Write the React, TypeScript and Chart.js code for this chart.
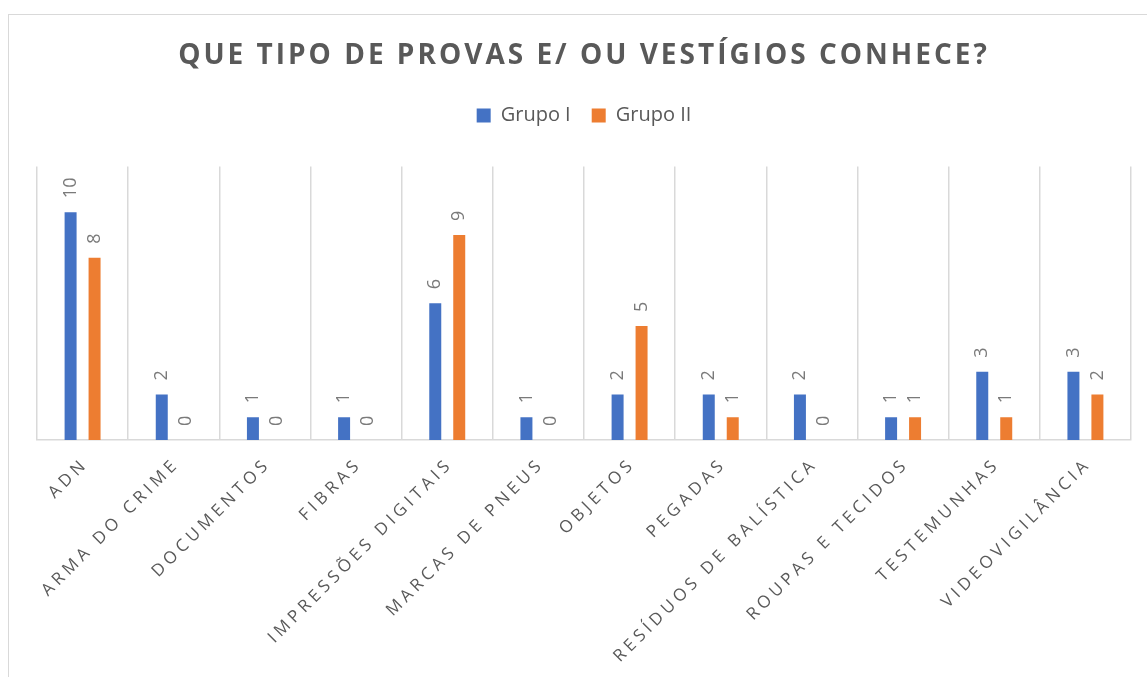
import React, { useEffect, useRef } from 'react';
import { Chart, registerables } from 'chart.js';

Chart.register(...registerables);

const categories = [
  'ADN',
  'ARMA DO CRIME',
  'DOCUMENTOS',
  'FIBRAS',
  'IMPRESSÕES DIGITAIS',
  'MARCAS DE PNEUS',
  'OBJETOS',
  'PEGADAS',
  'RESÍDUOS DE BALÍSTICA',
  'ROUPAS E TECIDOS',
  'TESTEMUNHAS',
  'VIDEOVIGILÂNCIA',
];
const grupoI = [10, 2, 1, 1, 6, 1, 2, 2, 2, 1, 3, 3];
const grupoII = [8, 0, 0, 0, 9, 0, 5, 1, 0, 1, 1, 2];
const seriesNames = ['Grupo I', 'Grupo II'];
const titleText = 'QUE TIPO DE PROVAS E/ OU VESTÍGIOS CONHECE?';
const yMin = 0;
const yMax = 12;

const FONT = '"Open Sans", "DejaVu Sans", sans-serif';

const spacingPlugin = {
  id: 'spacingPlugin',
  beforeDraw(chart: any) {
    const tb = chart.titleBlock;
    if (tb && !tb.__wrapped) {
      const orig = tb.draw;
      tb.draw = function (...args: any[]) {
        const c = this.ctx;
        c.save();
        c.letterSpacing = '3px';
        orig.apply(this, args);
        c.letterSpacing = '0px';
        c.restore();
      };
      tb.__wrapped = true;
    }
    const xs = chart.scales.x;
    if (xs && !xs.__wrapped) {
      const orig = xs.drawLabels;
      xs.drawLabels = function (...args: any[]) {
        const c = this.ctx;
        c.save();
        c.letterSpacing = '4.2px';
        orig.apply(this, args);
        c.letterSpacing = '0px';
        c.restore();
      };
      xs.__wrapped = true;
    }
  },
};

const dataLabelPlugin = {
  id: 'dataLabelPlugin',
  afterDatasetsDraw(chart: any) {
    const ctx = chart.ctx;
    chart.data.datasets.forEach((ds: any, i: number) => {
      const meta = chart.getDatasetMeta(i);
      meta.data.forEach((bar: any, j: number) => {
        const v = ds.data[j];
        ctx.save();
        ctx.translate(bar.x, bar.y - 14);
        ctx.rotate(-Math.PI / 2);
        ctx.font = `18px ${FONT}`;
        ctx.fillStyle = '#7a7a7a';
        ctx.textAlign = 'left';
        ctx.textBaseline = 'middle';
        ctx.fillText(String(v), 0, 0);
        ctx.restore();
      });
    });
  },
};

export default function App() {
  const ref = useRef<HTMLCanvasElement | null>(null);

  useEffect(() => {
    if (!ref.current) return;
    const chart = new Chart(ref.current, {
      type: 'bar',
      data: {
        labels: categories,
        datasets: [
          {
            label: seriesNames[0],
            data: grupoI,
            backgroundColor: '#4472C4',
            borderWidth: 0,
            categoryPercentage: 0.526,
            barPercentage: 0.5,
          },
          {
            label: seriesNames[1],
            data: grupoII,
            backgroundColor: '#ED7D31',
            borderWidth: 0,
            categoryPercentage: 0.526,
            barPercentage: 0.5,
          },
        ],
      },
      options: {
        responsive: false,
        animation: false,
        layout: { padding: { left: 28, right: 16, top: 0, bottom: 0 } },
        plugins: {
          title: {
            display: true,
            text: titleText,
            color: '#595959',
            font: { family: FONT, size: 28, weight: 'bold', lineHeight: 1.2 },
            padding: { top: 24, bottom: 12 },
          },
          subtitle: {
            display: true,
            text: '',
            weight: 500,
            font: { size: 10, lineHeight: 1 },
            padding: { top: 0, bottom: 21 },
          },
          legend: {
            display: true,
            position: 'top',
            labels: {
              boxWidth: 14,
              boxHeight: 14,
              padding: 21,
              color: '#595959',
              font: { family: FONT, size: 20 },
            },
          },
          tooltip: { enabled: false },
        },
        scales: {
          x: {
            grid: {
              offset: true,
              color: '#d9d9d9',
              lineWidth: 1.5,
              drawTicks: false,
            },
            border: { color: '#d9d9d9', width: 1.5 },
            ticks: {
              autoSkip: false,
              minRotation: 45,
              maxRotation: 45,
              padding: 14,
              labelOffset: 3,
              color: '#595959',
              font: { family: FONT, size: 17 },
            },
            afterFit: (s: any) => {
              s.height = 237;
            },
          },
          y: {
            display: false,
            min: yMin,
            max: yMax,
          },
        },
      },
      plugins: [spacingPlugin, dataLabelPlugin],
    } as any);
    return () => chart.destroy();
  }, []);

  return (
    <>
      <div
        style={{
          position: 'fixed',
          left: 8,
          top: 14,
          width: 1400,
          height: 900,
          borderLeft: '1px solid #d9d9d9',
          borderTop: '1px solid #d9d9d9',
          boxSizing: 'border-box',
          background: '#fff',
        }}
      />
      <canvas
        ref={ref}
        width={1138}
        height={662}
        style={{ position: 'fixed', left: 9, top: 15, width: 1138, height: 662 }}
      />
    </>
  );
}
